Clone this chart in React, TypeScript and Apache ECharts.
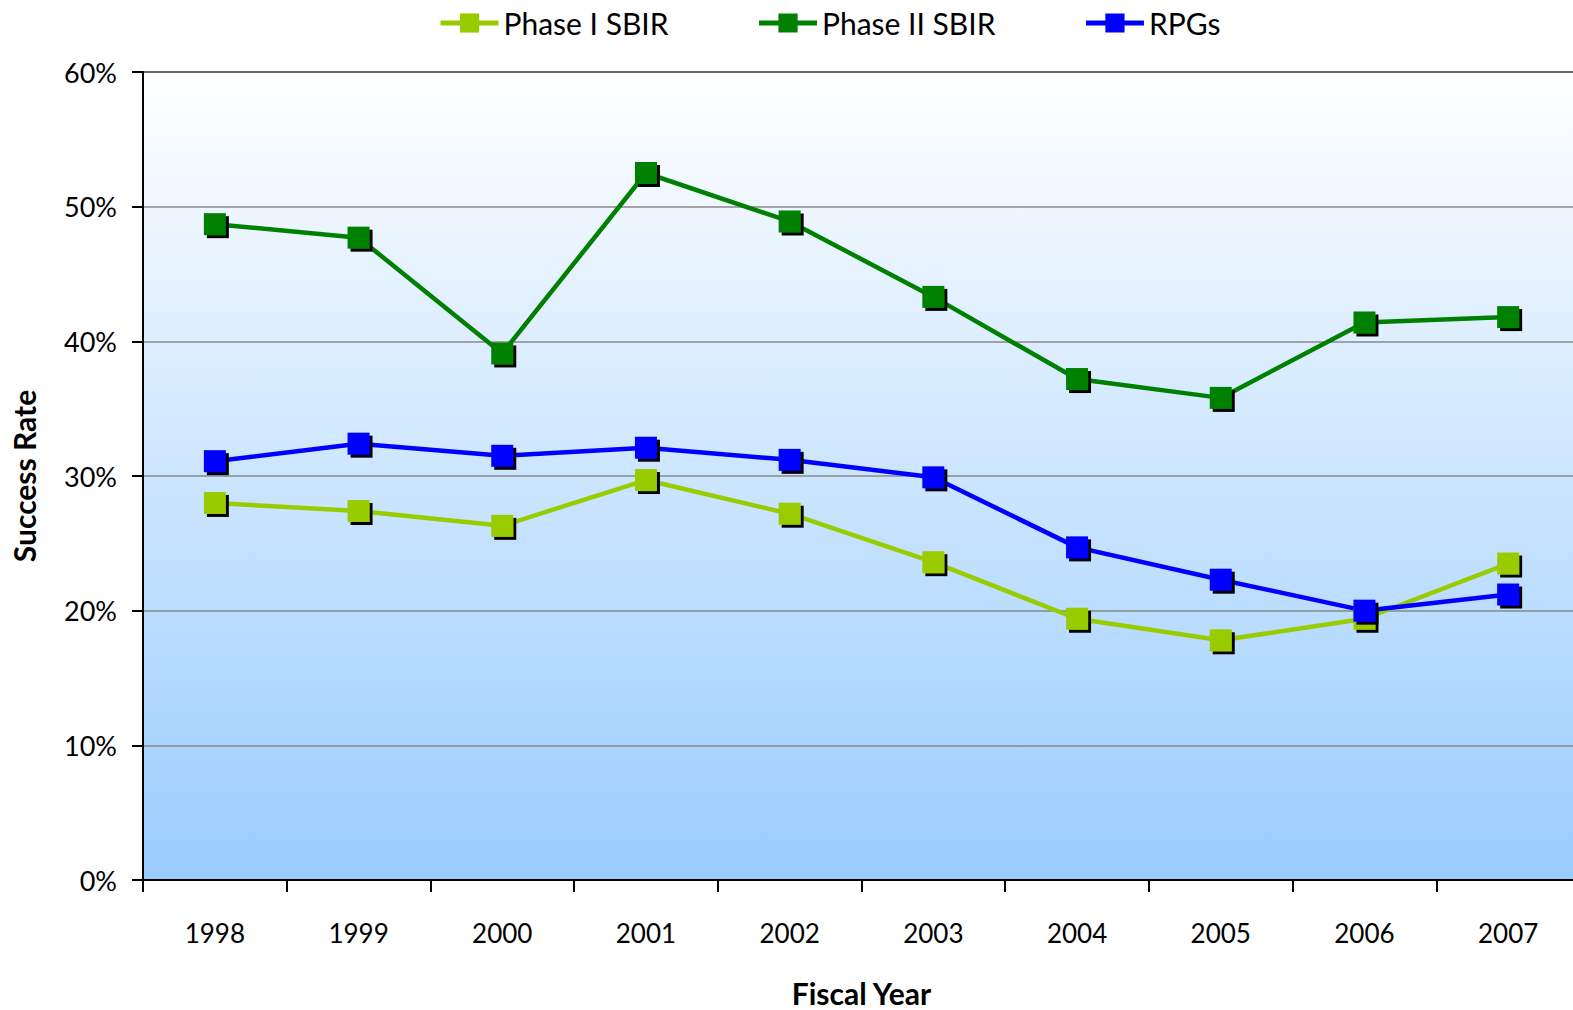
import React, { useEffect, useRef } from "react";
import * as echarts from "echarts";

const years = ["1998", "1999", "2000", "2001", "2002", "2003", "2004", "2005", "2006", "2007"];
const phaseI = [28.0, 27.4, 26.3, 29.7, 27.2, 23.6, 19.4, 17.8, 19.4, 23.5];
const phaseII = [48.7, 47.7, 39.1, 52.5, 48.9, 43.3, 37.2, 35.8, 41.4, 41.8];
const rpgs = [31.1, 32.4, 31.5, 32.1, 31.2, 29.9, 24.7, 22.3, 20.0, 21.2];

const FONT = "Lato, 'Open Sans', sans-serif";

export default function App() {
  const ref = useRef<HTMLDivElement>(null);
  useEffect(() => {
    if (!ref.current) return;
    const chart = echarts.init(ref.current, null, { renderer: "svg" });
    const mk = (name: string, data: number[], color: string) => ({
      name,
      type: "line",
      data,
      symbol: "rect",
      symbolSize: 22,
      lineStyle: { color, width: 4.5 },
      itemStyle: {
        color,
        shadowColor: "#000",
        shadowOffsetX: 3,
        shadowOffsetY: 3,
        shadowBlur: 0,
      },
      emphasis: { disabled: true },
    });
    chart.setOption({
      animation: false,
      backgroundColor: "#ffffff",
      textStyle: { fontFamily: FONT },
      legend: {
        left: 433,
        top: 3,
        itemWidth: 58,
        itemHeight: 24,
        itemGap: 88,
        lineStyle: { width: 5 },
        itemStyle: { shadowBlur: 0, shadowOffsetX: 0, shadowOffsetY: 0, shadowColor: "transparent" },
        textStyle: { fontFamily: FONT, fontSize: 30, color: "#000" },
        data: ["Phase I SBIR", "Phase II SBIR", "RPGs"],
      },
      grid: {
        left: 143,
        top: 72,
        width: 1437,
        height: 808,
        outerBoundsMode: "none",
        containLabel: false,
        show: true,
        borderColor: "#000",
        borderWidth: 2,
        backgroundColor: new echarts.graphic.LinearGradient(0, 0, 0, 1, [
          { offset: 0, color: "#ffffff" },
          { offset: 1, color: "#99ccff" },
        ]),
      },
      xAxis: {
        type: "category",
        data: years,
        boundaryGap: true,
        axisLine: { show: true, lineStyle: { color: "#000", width: 2 } },
        axisTick: { show: true, length: 12, lineStyle: { color: "#000", width: 2 } },
        axisLabel: { fontFamily: FONT, fontSize: 26, color: "#000", margin: 40 },
        name: "Fiscal Year",
        nameLocation: "middle",
        nameGap: 98,
        nameTextStyle: { fontFamily: FONT, fontSize: 30, fontWeight: "bold", color: "#000" },
      },
      yAxis: {
        type: "value",
        min: 0,
        max: 60,
        interval: 10,
        axisLine: { show: true, lineStyle: { color: "#000", width: 2 } },
        axisTick: { show: true, length: 11, lineStyle: { color: "#000", width: 2 } },
        axisLabel: {
          fontFamily: FONT,
          fontSize: 27,
          color: "#000",
          margin: 26,
          formatter: "{value}%",
        },
        splitLine: { show: true, lineStyle: { color: "#888888", width: 1.5 } },
        name: "Success Rate",
        nameLocation: "middle",
        nameGap: 104,
        nameTextStyle: { fontFamily: FONT, fontSize: 30, fontWeight: "bold", color: "#000" },
      },
      series: [
        mk("Phase I SBIR", phaseI, "#99cc00"),
        mk("Phase II SBIR", phaseII, "#008000"),
        mk("RPGs", rpgs, "#0000ff"),
      ],
    });
    return () => chart.dispose();
  }, []);
  return (
    <div
      ref={ref}
      style={{ position: "fixed", left: 0, top: 0, width: 1573, height: 1010 }}
    />
  );
}
